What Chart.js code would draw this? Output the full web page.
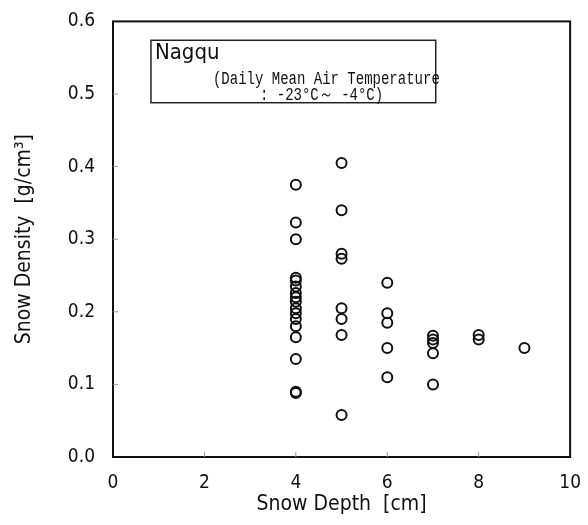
<!DOCTYPE html>
<html>
<head>
<meta charset="utf-8">
<script src="https://cdn.jsdelivr.net/npm/chart.js@4/dist/chart.umd.min.js"></script>
<style>
  html, body { margin: 0; padding: 0; background: #fff; }
  #wrap { width: 588px; height: 525px; }
</style>
</head>
<body>
<div id="wrap"><canvas id="densityChart" width="588" height="525"></canvas></div>
<script>
// snow depth [cm] and snow density [g/cm3] observed at Nagqu
const depth4 = [0.375, 0.323, 0.300, 0.247, 0.243, 0.235, 0.226, 0.220, 0.214, 0.205, 0.198, 0.190, 0.180, 0.165, 0.135, 0.090, 0.088];
const depth5 = [0.405, 0.340, 0.280, 0.273, 0.205, 0.190, 0.168, 0.058];
const depth6 = [0.240, 0.198, 0.185, 0.150, 0.110];
const depth7 = [0.167, 0.162, 0.157, 0.143, 0.100];
const depth8 = [0.168, 0.162];
const depth9 = [0.150];

const xTicks = [0, 2, 4, 6, 8, 10];
const yTicks = [0.0, 0.1, 0.2, 0.3, 0.4, 0.5, 0.6];

const stationName = 'Nagqu';
const noteLines = ['(Daily Mean Air Temperature', ': -23°C～ -4°C)'];

const FONT = '"Liberation Sans Narrow", "DejaVu Sans Condensed", sans-serif';

const groups = [[4, depth4], [5, depth5], [6, depth6], [7, depth7], [8, depth8], [9, depth9]];
const points = [];
groups.forEach(([d, vals]) => {
    vals.forEach(v => points.push({ x: d, y: v }));
});

// frame around the plot, short inward ticks, and the station box
const framePlugin = {
    id: 'frame',
    afterDraw(chart) {
        const ctx = chart.ctx;
        const a = chart.chartArea;
        const xs = chart.scales.x;
        const ys = chart.scales.y;
        ctx.save();
        ctx.strokeStyle = '#111';
        ctx.lineWidth = 2;
        ctx.strokeRect(a.left, a.top, a.right - a.left, a.bottom - a.top);

        ctx.lineWidth = 1;
        ctx.strokeStyle = '#999';
        xTicks.slice(1, -1).forEach(t => {
            const px = xs.getPixelForValue(t);
            ctx.beginPath();
            ctx.moveTo(px, a.bottom);
            ctx.lineTo(px, a.bottom - 5);
            ctx.stroke();
        });
        yTicks.slice(1, -1).forEach(t => {
            const py = ys.getPixelForValue(t);
            ctx.beginPath();
            ctx.moveTo(a.left, py);
            ctx.lineTo(a.left + 5, py);
            ctx.stroke();
        });

        // station box
        const bx0 = xs.getPixelForValue(0.83);
        const bx1 = xs.getPixelForValue(7.06);
        const by0 = ys.getPixelForValue(0.574);
        const by1 = ys.getPixelForValue(0.488);
        ctx.fillStyle = '#fff';
        ctx.fillRect(bx0, by0, bx1 - bx0, by1 - by0);
        ctx.strokeStyle = '#222';
        ctx.lineWidth = 1.5;
        ctx.strokeRect(bx0, by0, bx1 - bx0, by1 - by0);

        ctx.fillStyle = '#111';
        ctx.textBaseline = 'alphabetic';
        ctx.textAlign = 'left';
        ctx.font = '22px ' + FONT;
        ctx.fillText(stationName, bx0 + 4, by0 + 19);
        // the note text is narrow and tall, so stretch it vertically
        ctx.font = '14px "Liberation Mono", "DejaVu Sans Mono", monospace';
        ctx.save();
        ctx.translate(bx0 + 62, by0 + 44);
        ctx.scale(1, 1.25);
        ctx.fillText(noteLines[0], 0, 0);
        ctx.restore();
        ctx.save();
        ctx.translate(bx0 + 109, by0 + 60);
        ctx.scale(1, 1.25);
        ctx.fillText(noteLines[1], 0, 0);
        ctx.restore();
        ctx.restore();
    }
};

new Chart(document.getElementById('densityChart').getContext('2d'), {
    type: 'scatter',
    data: {
        datasets: [{
            label: stationName,
            data: points,
            pointStyle: 'circle',
            pointRadius: 5,
            pointHoverRadius: 5,
            pointBorderWidth: 2,
            borderColor: '#111',
            backgroundColor: 'rgba(0,0,0,0)'
        }]
    },
    options: {
        responsive: false,
        animation: false,
        layout: { padding: { top: 9, right: 9, left: 0, bottom: 0 } },
        plugins: {
            legend: { display: false },
            tooltip: { enabled: false }
        },
        scales: {
            x: {
                type: 'linear',
                min: 0,
                max: 10,
                afterBuildTicks: s => { s.ticks = xTicks.map(v => ({ value: v })); },
                afterFit: s => { s.height = 68; },
                grid: { display: false },
                border: { display: false },
                ticks: {
                    padding: 7,
                    color: '#111',
                    font: { family: FONT, size: 19 },
                    maxRotation: 0
                },
                title: {
                    display: true,
                    text: 'Snow Depth  [cm]',
                    color: '#111',
                    font: { family: FONT, size: 21 },
                    padding: { top: 0, bottom: 8 }
                }
            },
            y: {
                type: 'linear',
                min: 0,
                max: 0.6,
                afterBuildTicks: s => { s.ticks = yTicks.map(v => ({ value: v })); },
                afterFit: s => { s.width = 113; },
                grid: { display: false },
                border: { display: false },
                ticks: {
                    padding: 10,
                    color: '#111',
                    font: { family: FONT, size: 19 },
                    callback: v => v.toFixed(1)
                },
                title: {
                    display: true,
                    text: 'Snow Density  [g/cm³]',
                    color: '#111',
                    font: { family: FONT, size: 21 },
                    padding: { top: 12, bottom: 0 }
                }
            }
        }
    },
    plugins: [framePlugin]
});
</script>
</body>
</html>
